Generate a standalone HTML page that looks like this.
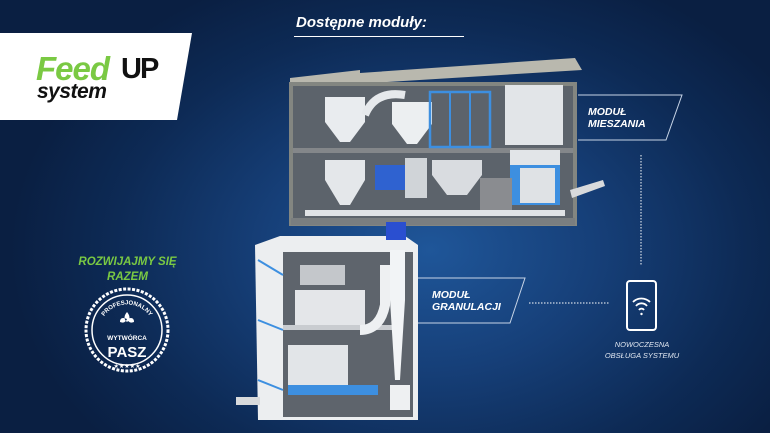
<!DOCTYPE html>
<html><head><meta charset="utf-8"><style>
*{margin:0;padding:0;box-sizing:border-box}
body{width:770px;height:433px;overflow:hidden;position:relative;font-family:"Liberation Sans",sans-serif;
background:radial-gradient(ellipse 420px 300px at 430px 250px,#1f5699 0%,#163f78 40%,#0d2a55 75%,#0a1f42 100%);}
.a{position:absolute}
.t{color:#fff;font-weight:bold;font-style:italic}
</style></head><body>
<div class="a t" style="left:296px;top:14px;font-size:15px;">Dostępne moduły:</div>
<div class="a" style="left:294px;top:36px;width:170px;height:1px;background:#fff"></div>
<svg class="a" style="left:0;top:0" width="770" height="433">
<polygon points="0,33 192,33 177,120 0,120" fill="#fff"/>
<text x="36" y="80" font-family="Liberation Sans" font-weight="bold" font-style="italic" font-size="33" letter-spacing="-1" fill="#7ac943">Feed</text>
<text x="121" y="78" font-family="Liberation Sans" font-weight="bold" font-size="29" letter-spacing="-2" fill="#111">UP</text>
<text x="37" y="98" font-family="Liberation Sans" font-weight="bold" font-style="italic" font-size="21" letter-spacing="-0.5" fill="#111">system</text>
<!-- top machine -->
<polygon points="290,78 360,70 360,73 575,58 582,70 290,88" fill="#b9b8ae"/>
<rect x="291" y="84" width="284" height="140" fill="#5c636b"/>
<rect x="291" y="84" width="284" height="140" fill="none" stroke="#838681" stroke-width="4"/>
<rect x="293" y="148" width="280" height="5" fill="#84878a"/>
<rect x="291" y="218" width="284" height="7" fill="#7a7e80"/>
<path d="M325,97 h40 v25 l-15,20 h-10 l-15,-20z" fill="#e9ecef"/>
<path d="M325,160 h40 v20 l-15,25 h-10 l-15,-25z" fill="#e4e7ea"/>
<path d="M392,102 h40 v22 l-15,20 h-10 l-15,-20z" fill="#eceff1"/>
<path d="M365,115 q10,-25 40,-20" fill="none" stroke="#e6e9ec" stroke-width="8"/>
<rect x="430" y="92" width="60" height="55" fill="none" stroke="#3d8fe0" stroke-width="2.5"/>
<line x1="450" y1="92" x2="450" y2="147" stroke="#3d8fe0" stroke-width="2"/>
<line x1="470" y1="92" x2="470" y2="147" stroke="#3d8fe0" stroke-width="2"/>
<rect x="505" y="85" width="58" height="60" fill="#e2e5e8"/>
<rect x="510" y="150" width="50" height="15" fill="#e2e5e8"/>
<rect x="510" y="165" width="50" height="40" fill="#3d8fe0"/>
<rect x="520" y="168" width="35" height="35" fill="#dfe2e5"/>
<rect x="375" y="165" width="30" height="25" fill="#2f62d0"/>
<rect x="405" y="158" width="22" height="40" fill="#d0d4d8"/>
<path d="M432,160 h50 v15 l-15,20 h-20 l-15,-20z" fill="#d9dce0"/>
<rect x="480" y="178" width="32" height="35" fill="#8a8c90"/>
<rect x="305" y="210" width="260" height="6" fill="#e0e3e6"/>
<polygon points="570,190 603,180 605,186 572,198" fill="#d8dadc"/>
<!-- bottom machine -->
<polygon points="255,245 280,236 405,236 418,245 418,420 258,420" fill="#eceef0"/>
<rect x="283" y="252" width="130" height="165" fill="#5e646c"/>
<rect x="283" y="325" width="110" height="5" fill="#c9ccd0"/>
<rect x="300" y="265" width="45" height="20" fill="#c4c7cb"/>
<rect x="295" y="290" width="70" height="35" fill="#e4e6e9"/>
<path d="M390,250 h15 v50 l-5,80 h-5 l-5,-80z" fill="#f2f4f6"/>
<path d="M360,330 q20,0 25,-25 l0,-40" fill="none" stroke="#eef0f2" stroke-width="10"/>
<rect x="288" y="345" width="60" height="45" fill="#e2e5e8"/>
<rect x="288" y="385" width="90" height="10" fill="#3d8fe0"/>
<rect x="390" y="385" width="20" height="25" fill="#eef0f2"/>
<rect x="386" y="222" width="20" height="18" fill="#2a4fd0"/>
<line x1="258" y1="260" x2="283" y2="275" stroke="#3d8fe0" stroke-width="2"/>
<line x1="258" y1="320" x2="283" y2="330" stroke="#3d8fe0" stroke-width="2"/>
<line x1="258" y1="380" x2="283" y2="390" stroke="#3d8fe0" stroke-width="2"/>
<rect x="236" y="397" width="24" height="8" fill="#d8dadc"/>
<!-- labels -->
<polyline points="578,95 682,95 666,140 578,140" fill="none" stroke="#c7d4e6" stroke-width="1"/>
<polyline points="418,278 525,278 510,323 418,323" fill="none" stroke="#c7d4e6" stroke-width="1"/>
<line x1="641" y1="155" x2="641" y2="265" stroke="#fff" stroke-width="1" stroke-dasharray="1.5,1.5"/>
<line x1="529" y1="303" x2="610" y2="303" stroke="#fff" stroke-width="1" stroke-dasharray="1.5,1.5"/>
<rect x="627" y="281" width="29" height="49" rx="3" fill="none" stroke="#fff" stroke-width="2"/>
<path d="M633,302 a12,12 0 0 1 17,0 M636,306 a7,7 0 0 1 11,0 M639,310 a3,3 0 0 1 5,0" fill="none" stroke="#fff" stroke-width="1.8"/>
<circle cx="641.5" cy="314" r="1.2" fill="#fff"/>
<!-- badge -->
<circle cx="127" cy="330" r="41" fill="none" stroke="#fff" stroke-width="3" stroke-dasharray="3,1.5"/>
<circle cx="127" cy="330" r="35" fill="none" stroke="#fff" stroke-width="1.5"/>
<path d="M127,312 q-5,6 0,10 q5,-4 0,-10 M120,322 q0,-6 7,-3 q-2,5 -7,3 M134,322 q0,-6 -7,-3 q2,5 7,3" fill="#fff"/>
<text x="127" y="340" text-anchor="middle" font-family="Liberation Sans" font-weight="bold" font-size="6.5" fill="#fff">WYTWÓRCA</text>
<text x="127" y="357" text-anchor="middle" font-family="Liberation Sans" font-weight="bold" font-size="15" fill="#fff">PASZ</text>
<text x="127" y="368" text-anchor="middle" font-size="6" fill="#fff">★★★★★</text>
<path id="arc" d="M101,322 A28,28 0 0 1 153,322" fill="none"/>
<text font-family="Liberation Sans" font-weight="bold" font-size="6" fill="#fff"><textPath href="#arc" startOffset="50%" text-anchor="middle">PROFESJONALNY</textPath></text>
</svg>
<div class="a t" style="left:588px;top:106px;font-size:10.5px;line-height:12px">MODUŁ<br>MIESZANIA</div>
<div class="a t" style="left:432px;top:289px;font-size:10.5px;line-height:12px">MODUŁ<br>GRANULACJI</div>
<div class="a" style="left:590px;top:339px;width:104px;text-align:center;color:#dfe6f0;font-style:italic;font-size:7.5px;line-height:11px">NOWOCZESNA<br>OBSŁUGA SYSTEMU</div>
<div class="a" style="left:40px;top:255px;width:175px;text-align:center;color:#7ac943;font-weight:bold;font-style:italic;font-size:11.5px;line-height:15px">ROZWIJAJMY SIĘ<br>RAZEM</div>
</body></html>
